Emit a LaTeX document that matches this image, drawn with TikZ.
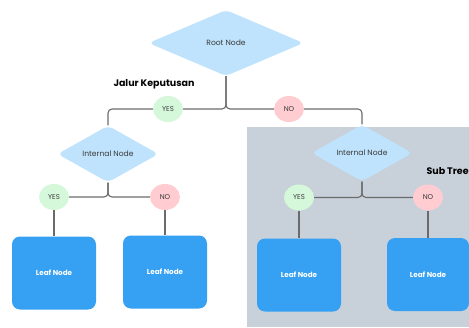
\documentclass[tikz,border=0pt]{standalone}
\usepackage{fontspec}
\setmainfont{Poppins}
\usetikzlibrary{shapes.geometric,backgrounds}
\definecolor{diam}{HTML}{BFE3FC}
\definecolor{leafc}{HTML}{36A1F2}
\definecolor{yesc}{HTML}{D5F8DA}
\definecolor{noc}{HTML}{FFCCD1}
\definecolor{subc}{HTML}{C8D0D9}
\definecolor{linec}{HTML}{6B6B6B}
\definecolor{txt}{HTML}{3A3A3A}
\tikzset{
  dnode/.style={diamond, fill=diam, rounded corners=5pt, inner sep=0pt, text=txt, font=\fontsize{7.6}{8}\selectfont},
  leafbox/.style={rectangle, fill=leafc, rounded corners=8pt, minimum width=84pt, minimum height=73pt, inner sep=0pt, text=white, font=\bfseries\fontsize{7.2}{8}\selectfont},
  yesbox/.style={ellipse, fill=yesc, minimum width=30pt, minimum height=26pt, inner sep=0pt, text=txt, font=\fontsize{7}{8}\selectfont},
  nobox/.style={ellipse, fill=noc, minimum width=30pt, minimum height=26pt, inner sep=0pt, text=txt, font=\fontsize{7}{8}\selectfont},
  conn/.style={draw=linec, line width=1.1pt, rounded corners=4pt},
  lbl/.style={font=\bfseries\fontsize{9.5}{11}\selectfont, text=black}
}
\begin{document}
\begin{tikzpicture}[x=1pt,y=-1pt]
\useasboundingbox (0,0) rectangle (469,327);
% nodes
\node[dnode, minimum width=155pt, minimum height=66pt] (root) at (226,43) {Root Node};
\node[dnode, minimum width=101pt, minimum height=42pt] (int1) at (108,154) {Internal Node};
\node[dnode, minimum width=101pt, minimum height=44pt] (int2) at (362,153) {Internal Node};
\node[yesbox] (y0) at (168,109) {YES};
\node[nobox] (n0) at (289,109) {NO};
\node[yesbox] (y1) at (54,197) {YES};
\node[nobox] (n1) at (165,197) {NO};
\node[yesbox] (y2) at (299,197.5) {YES};
\node[nobox] (n2) at (428,197.5) {NO};
\node[leafbox] (l1) at (54,273) {Leaf Node};
\node[leafbox] (l2) at (165,272) {Leaf Node};
\node[leafbox] (l3) at (299,275) {Leaf Node};
\node[leafbox, minimum width=82pt] (l4) at (428,274.5) {Leaf Node};
\node[lbl] (jk) at (154,84) {Jalur Keputusan};
\node[lbl, anchor=west] (st) at (423,171) {Sub Tree};
% background and connectors
\begin{pgfonlayer}{background}
\fill[subc] (247,127) rectangle (469,327);
\draw[conn] (root.south) |- (y0.center) -| (int1.north);
\draw[conn] (root.south) |- (n0.center) -| (int2.north);
\draw[conn] (int1.south) |- (y1.center);
\draw[conn] (int1.south) |- (n1.center);
\draw[conn] (y1) -- (l1.north);
\draw[conn] (n1) -- (l2.north);
\draw[conn] (int2.south) |- (y2.center);
\draw[conn] (int2.south) |- (n2.center);
\draw[conn] (y2) -- (l3.north);
\draw[conn] (n2) -- (l4.north);
\end{pgfonlayer}
\end{tikzpicture}
\end{document}
